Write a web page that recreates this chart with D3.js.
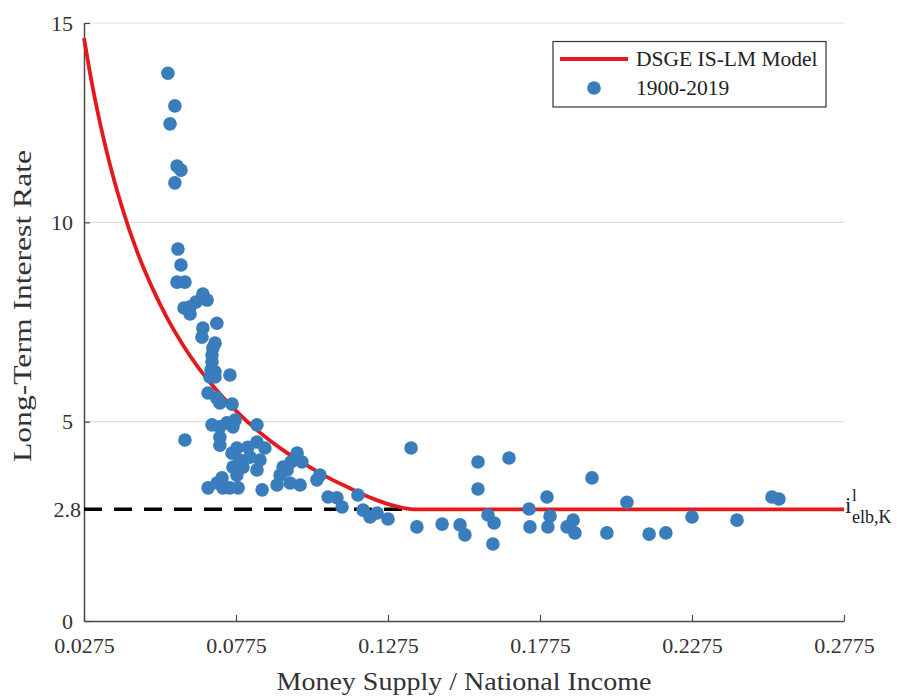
<!DOCTYPE html>
<html>
<head>
<meta charset="utf-8">
<script src="https://cdn.jsdelivr.net/npm/d3@7"></script>
<style>
  html, body { margin: 0; padding: 0; background: #fff; }
  svg { display: block; font-family: "Liberation Serif", "DejaVu Serif", serif; }
</style>
</head>
<body>
<svg id="chart" width="897" height="698"></svg>
<script>
// ─── Data ─────────────────────────────────────────────────────────────────────

// DSGE IS-LM model curve
const curveX = [0.0275, 0.0300, 0.0325, 0.0350, 0.0375, 0.0400, 0.0450, 0.0500, 0.0550, 0.0600, 0.0650,
                0.0700, 0.0775, 0.0850, 0.0925, 0.1000, 0.1075, 0.1150, 0.1225, 0.1300, 0.1360, 0.2775];
const curveY = [14.62, 13.53, 12.59, 11.76, 11.03, 10.38, 9.26, 8.35, 7.58, 6.93, 6.37,
                5.89, 5.27, 4.75, 4.31, 3.94, 3.61, 3.33, 3.07, 2.88, 2.80, 2.80];

// 1900-2019 observations
const moneyRatio = [
  0.0551, 0.0574, 0.0558, 0.0581, 0.0594, 0.0574,
  0.0584, 0.0594, 0.0581, 0.0607,
  0.0666, 0.0680, 0.0643, 0.0624, 0.0604, 0.0624,
  0.0712, 0.0666, 0.0663, 0.0706, 0.0699, 0.0696, 0.0696, 0.0693, 0.0706, 0.0689, 0.0706, 0.0755,
  0.0683, 0.0712, 0.0722, 0.0762,
  0.0696, 0.0722, 0.0745, 0.0772, 0.0765, 0.0844,
  0.0722, 0.0722, 0.0607,
  0.0778, 0.0762, 0.0814, 0.0844, 0.0870, 0.0821, 0.0788, 0.0854, 0.0765, 0.0798, 0.0844, 0.0778,
  0.0976, 0.0992, 0.0956, 0.0930, 0.0943, 0.0920,
  0.0729, 0.0713, 0.0683, 0.0732, 0.0755, 0.0782, 0.0861, 0.0910, 0.0953, 0.0986, 0.1041, 0.1051,
  0.1078, 0.1107, 0.1124, 0.1176, 0.1193, 0.1216, 0.1239, 0.1275,
  0.1351, 0.1370, 0.1453, 0.1512, 0.1528,
  0.1571, 0.1571, 0.1604, 0.1624, 0.1620, 0.1673,
  0.1739, 0.1742, 0.1798, 0.1808, 0.1801, 0.1864, 0.1884, 0.1890, 0.1946, 0.1995,
  0.2061, 0.2134, 0.2189, 0.2275, 0.2423, 0.2538, 0.2561
];
const longRate = [
  13.74, 12.92, 12.47, 11.41, 11.31, 10.99,
  9.33, 8.93, 8.50, 8.50,
  8.20, 8.05, 8.00, 7.88, 7.85, 7.70,
  7.47, 7.35, 7.12, 6.97, 6.85, 6.67, 6.50, 6.30, 6.25, 6.12, 6.12, 6.17,
  5.72, 5.59, 5.47, 5.44,
  4.92, 4.87, 4.97, 5.04, 4.87, 4.92,
  4.61, 4.41, 4.54,
  4.34, 4.21, 4.36, 4.49, 4.34, 4.11, 4.04, 4.04, 3.86, 3.86, 3.79, 3.66,
  4.21, 3.99, 3.99, 3.86, 3.79, 3.66,
  3.59, 3.46, 3.34, 3.34, 3.34, 3.34, 3.29, 3.41, 3.46, 3.41, 3.54, 3.66,
  3.11, 3.09, 2.86, 3.16, 2.78, 2.61, 2.71, 2.56,
  4.34, 2.36, 2.43, 2.41, 2.16,
  3.99, 3.31, 2.66, 2.46, 1.93, 4.09,
  2.81, 2.36, 3.11, 2.63, 2.36, 2.36, 2.53, 2.21, 3.59, 2.21,
  2.98, 2.18, 2.21, 2.61, 2.53, 3.11, 3.06
];

const xTicks = [0.0275, 0.0775, 0.1275, 0.1775, 0.2275, 0.2775];
const yTicks = [0, 2.8, 5, 10, 15];
const yGrid = [5, 10, 15];
const elbRate = 2.8;
const elbEnd = 0.1364;

// ─── Chart ────────────────────────────────────────────────────────────────────

const margin = { top: 23, right: 53, bottom: 77, left: 84 };
const W = 897, H = 698;

const svg = d3.select("#chart");

const x = d3.scaleLinear().domain([0.0275, 0.2775]).range([margin.left, W - margin.right]);
const y = d3.scaleLinear().domain([0, 15]).range([H - margin.bottom, margin.top]);

const red = "#e31a1c";
const blue = "#3a7dbd";
const axisColor = "#4a4a4a";

// Grid lines
svg.append("g")
  .selectAll("line")
  .data(yGrid)
  .join("line")
  .attr("x1", x(0.0275))
  .attr("x2", x(0.2775))
  .attr("y1", d => y(d))
  .attr("y2", d => y(d))
  .attr("stroke", "#dedede")
  .attr("stroke-width", 1.2);

// X axis
const xAxis = svg.append("g")
  .attr("transform", `translate(0,${y(0)})`)
  .call(d3.axisBottom(x).tickValues(xTicks).tickFormat(d3.format(".4f")).tickSizeInner(-6).tickSizeOuter(0).tickPadding(16));
xAxis.select(".domain").attr("stroke", axisColor).attr("stroke-width", 1.5);
xAxis.selectAll(".tick line").attr("stroke", axisColor).attr("stroke-width", 1.2);
xAxis.selectAll(".tick text")
  .attr("fill", "#333")
  .attr("font-size", "22px")
  .attr("font-family", "Liberation Serif, serif");

// Y axis
const yAxis = svg.append("g")
  .attr("transform", `translate(${x(0.0275)},0)`)
  .call(d3.axisLeft(y).tickValues(yTicks).tickFormat(d => d === 2.8 ? "2.8" : d).tickSizeInner(-6).tickSizeOuter(0).tickPadding(17));
yAxis.select(".domain").attr("stroke", axisColor).attr("stroke-width", 1.5);
yAxis.selectAll(".tick line").attr("stroke", axisColor).attr("stroke-width", 1.2);
yAxis.selectAll(".tick text")
  .attr("fill", "#333")
  .attr("font-size", "22px")
  .attr("font-family", "Liberation Serif, serif")
  .attr("x", d => d === 2.8 ? -3 : -11);

// Axis titles
svg.append("text")
  .attr("x", (x(0.0275) + x(0.2775)) / 2)
  .attr("y", 690)
  .attr("text-anchor", "middle")
  .attr("fill", "#333")
  .attr("font-size", "26px")
  .attr("textLength", 375)
  .attr("lengthAdjust", "spacingAndGlyphs")
  .text("Money Supply / National Income");

svg.append("text")
  .attr("transform", "translate(31,306) rotate(-90)")
  .attr("text-anchor", "middle")
  .attr("fill", "#333")
  .attr("font-size", "26px")
  .attr("textLength", 312)
  .attr("lengthAdjust", "spacingAndGlyphs")
  .text("Long-Term Interest Rate");

// Effective lower bound (dashed)
svg.append("line")
  .attr("x1", x(0.0275))
  .attr("x2", x(elbEnd))
  .attr("y1", y(elbRate))
  .attr("y2", y(elbRate))
  .attr("stroke", "#000")
  .attr("stroke-width", 3.5)
  .attr("stroke-dasharray", "18,12");

// Model curve
const line = d3.line()
  .x((d, i) => x(curveX[i]))
  .y(d => y(d))
  .curve(d3.curveMonotoneX);

svg.append("path")
  .attr("d", line(curveY))
  .attr("fill", "none")
  .attr("stroke", red)
  .attr("stroke-width", 3.8);

// Observations
svg.append("g")
  .selectAll("circle")
  .data(moneyRatio)
  .join("circle")
  .attr("cx", d => x(d))
  .attr("cy", (d, i) => y(longRate[i]))
  .attr("r", 6.8)
  .attr("fill", blue);

// i^l_{elb,K} label
const lab = svg.append("g").attr("fill", "#222");
lab.append("text").attr("x", x(0.2775) + 1).attr("y", y(elbRate) + 4).attr("font-size", "23px").text("i");
lab.append("text").attr("x", x(0.2775) + 8).attr("y", y(elbRate) - 8).attr("font-size", "17px").text("l");
lab.append("text").attr("x", x(0.2775) + 8).attr("y", y(elbRate) + 14).attr("font-size", "18px").text("elb,K");

// ─── Legend ───────────────────────────────────────────────────────────────────

const legend = svg.append("g");
legend.append("rect")
  .attr("x", 553).attr("y", 41.5)
  .attr("width", 273).attr("height", 65.5)
  .attr("fill", "#fff")
  .attr("stroke", "#333")
  .attr("stroke-width", 1.2);
legend.append("line")
  .attr("x1", 560).attr("x2", 628)
  .attr("y1", 59).attr("y2", 59)
  .attr("stroke", red).attr("stroke-width", 3.8);
legend.append("text")
  .attr("x", 636).attr("y", 66)
  .attr("fill", "#222")
  .attr("font-size", "21.5px")
  .text("DSGE IS-LM Model");
legend.append("circle")
  .attr("cx", 594).attr("cy", 88)
  .attr("r", 6.8).attr("fill", blue);
legend.append("text")
  .attr("x", 636).attr("y", 95)
  .attr("fill", "#222")
  .attr("font-size", "21.5px")
  .text("1900-2019");
</script>
</body>
</html>
